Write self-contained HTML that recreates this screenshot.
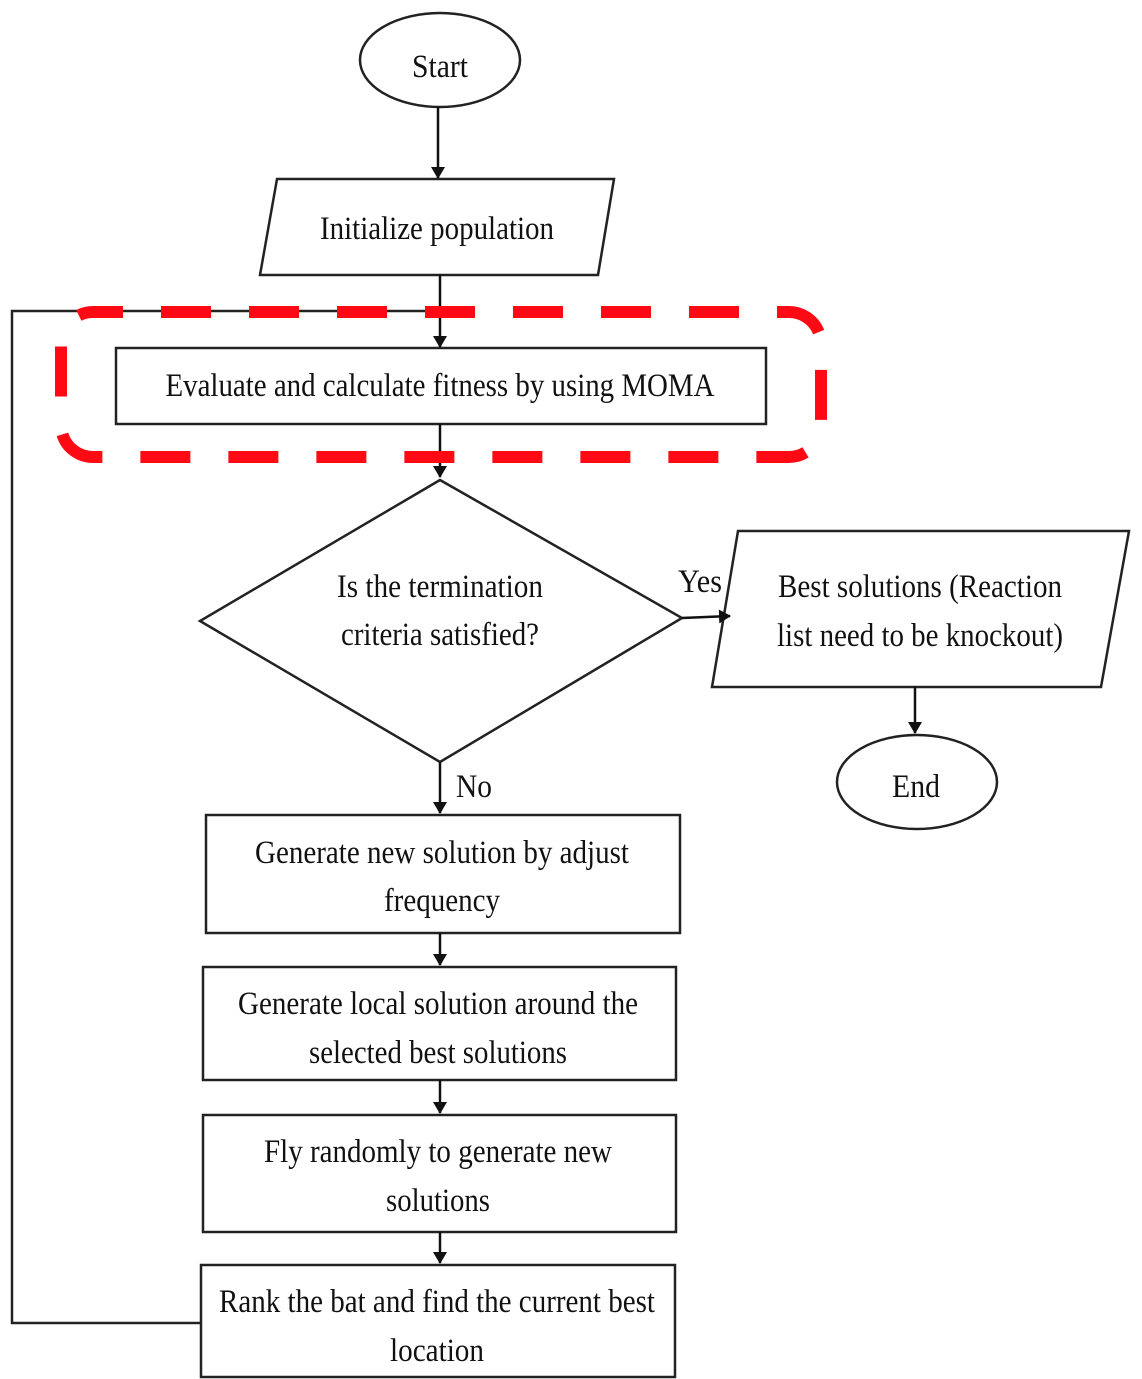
<!DOCTYPE html>
<html><head><meta charset="utf-8"><style>html,body{margin:0;padding:0;background:#fff}svg{display:block}</style></head><body>
<svg width="1142" height="1379" viewBox="0 0 1142 1379" xmlns="http://www.w3.org/2000/svg">
<defs><marker id="a" markerWidth="12" markerHeight="14" refX="11" refY="7" orient="auto" markerUnits="userSpaceOnUse"><path d="M0,0 L12,7 L0,14 Z" fill="#111"/></marker></defs>
<g fill="none" stroke="#222" stroke-width="2.5">
<ellipse cx="440" cy="60" rx="80" ry="47"/>
<path d="M277,179 L614,179 L598,275 L260,275 Z"/>
<rect x="116" y="348" width="650" height="76"/>
<path d="M440,480 L682,618 L440,762 L200,621 Z"/>
<path d="M738,531 L1129,531 L1101,687 L712,687 Z"/>
<ellipse cx="917" cy="782" rx="80" ry="47"/>
<rect x="206" y="815" width="474" height="118"/>
<rect x="203" y="967" width="473" height="113"/>
<rect x="203" y="1115" width="473" height="117"/>
<rect x="201" y="1265" width="474" height="112"/>
<path d="M201,1323 L12,1323 L12,311 L440,311"/>
</g>
<g stroke="#111" stroke-width="2.5" marker-end="url(#a)">
<line x1="438" y1="107" x2="438" y2="178"/>
<line x1="440" y1="275" x2="440" y2="347"/>
<line x1="440" y1="424" x2="440" y2="477"/>
<line x1="682" y1="618" x2="730" y2="616"/>
<line x1="915" y1="687" x2="915" y2="733"/>
<line x1="440" y1="762" x2="440" y2="813"/>
<line x1="440" y1="933" x2="440" y2="965"/>
<line x1="440" y1="1080" x2="440" y2="1113"/>
<line x1="440" y1="1232" x2="440" y2="1263"/>
</g>
<rect x="61" y="312" width="760" height="145" rx="32" fill="none" stroke="#ff0a14" stroke-width="12" stroke-dasharray="50 38" stroke-dashoffset="20"/>
<g font-family="'Liberation Serif',serif" font-size="33" fill="#111" text-anchor="middle" lengthAdjust="spacingAndGlyphs">
<text x="440" y="77" textLength="56" lengthAdjust="spacingAndGlyphs">Start</text>
<text x="437" y="239" textLength="234" lengthAdjust="spacingAndGlyphs">Initialize population</text>
<text x="440" y="396" textLength="549" lengthAdjust="spacingAndGlyphs">Evaluate and calculate fitness by using MOMA</text>
<text x="440" y="597" textLength="206" lengthAdjust="spacingAndGlyphs">Is the termination</text>
<text x="440" y="645" textLength="198" lengthAdjust="spacingAndGlyphs">criteria satisfied?</text>
<text x="700" y="592" textLength="44" lengthAdjust="spacingAndGlyphs">Yes</text>
<text x="920" y="597" textLength="284" lengthAdjust="spacingAndGlyphs">Best solutions (Reaction</text>
<text x="920" y="646" textLength="286" lengthAdjust="spacingAndGlyphs">list need to be knockout)</text>
<text x="916" y="797" textLength="48" lengthAdjust="spacingAndGlyphs">End</text>
<text x="474" y="797" textLength="36" lengthAdjust="spacingAndGlyphs">No</text>
<text x="442" y="863" textLength="374" lengthAdjust="spacingAndGlyphs">Generate new solution by adjust</text>
<text x="442" y="911" textLength="116" lengthAdjust="spacingAndGlyphs">frequency</text>
<text x="438" y="1014" textLength="400" lengthAdjust="spacingAndGlyphs">Generate local solution around the</text>
<text x="438" y="1063" textLength="258" lengthAdjust="spacingAndGlyphs">selected best solutions</text>
<text x="438" y="1162" textLength="348" lengthAdjust="spacingAndGlyphs">Fly randomly to generate new</text>
<text x="438" y="1211" textLength="104" lengthAdjust="spacingAndGlyphs">solutions</text>
<text x="437" y="1312" textLength="436" lengthAdjust="spacingAndGlyphs">Rank the bat and find the current best</text>
<text x="437" y="1361" textLength="94" lengthAdjust="spacingAndGlyphs">location</text>
</g>
</svg>
</body></html>
